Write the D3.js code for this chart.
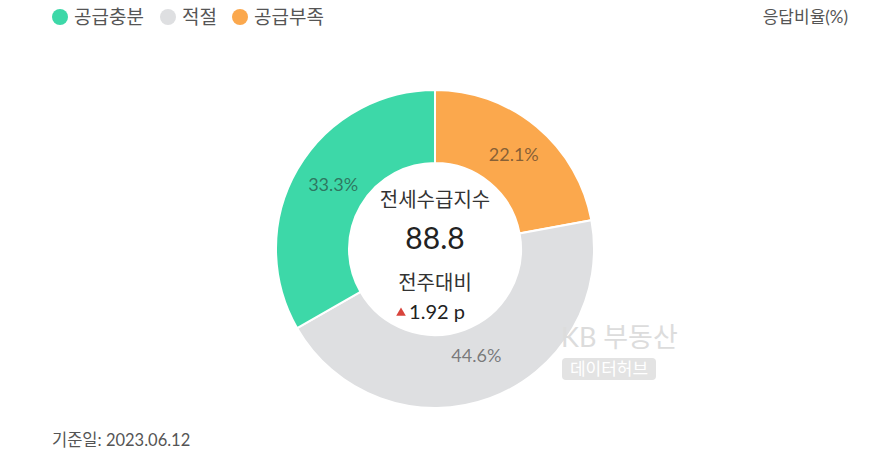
<!DOCTYPE html>
<html><head><meta charset="utf-8">
<script src="https://cdn.jsdelivr.net/npm/d3@7/dist/d3.min.js"></script>
<style>
body{margin:0;background:#fff;}
text{font-family:Lato,"Noto Sans CJK KR",sans-serif;}
</style></head>
<body><svg id="c" width="889" height="466"></svg>
<script>
const categories = ["공급충분", "적절", "공급부족"];
const values = [33.3, 44.6, 22.1];
const colors = ["#3dd8a8", "#dedfe1", "#fba84d"];
const indexTitle = "전세수급지수";
const indexValue = "88.8";
const changeTitle = "전주대비";
const changeValue = "1.92 p";
const dateLabel = "기준일: 2023.06.12";
const unitLabel = "응답비율(%)";

const svg = d3.select("#c");
const cx = 435, cy = 249, rOuter = 159, rInner = 86;

// legend
const legendX = [60, 168, 240];
categories.forEach((c, i) => {
  svg.append("circle").attr("cx", legendX[i]).attr("cy", 17).attr("r", 8).attr("fill", colors[i]);
  svg.append("text").attr("x", legendX[i] + 14).attr("y", 17).attr("dy", "0.35em")
    .attr("font-size", 19).attr("fill", "#555").text(c);
});
svg.append("text").attr("x", 848).attr("y", 17).attr("dy", "0.35em").attr("text-anchor", "end")
  .attr("font-size", 17).attr("fill", "#555").text(unitLabel);

// pie: draw in reverse order clockwise from top
const data = categories.map((c, i) => ({c, v: values[i], col: colors[i]})).reverse();
const pie = d3.pie().value(d => d.v).sort(null);
const arc = d3.arc().innerRadius(rInner).outerRadius(rOuter);
const g = svg.append("g").attr("transform", `translate(${cx},${cy})`);
const arcs = pie(data);
g.selectAll("path").data(arcs).join("path")
  .attr("d", arc).attr("fill", d => d.data.col)
  .attr("stroke", "#fff").attr("stroke-width", 2);

const labelArc = d3.arc().innerRadius(120).outerRadius(120);
const labelAdj = {"공급부족": [2, -2], "적절": [0, -6], "공급충분": [2, -4]};
g.selectAll("text.lbl").data(arcs).join("text").attr("class", "lbl")
  .attr("transform", d => {
    const p = labelArc.centroid(d); const a = labelAdj[d.data.c];
    return `translate(${p[0] + a[0]},${p[1] + a[1]})`;
  })
  .attr("text-anchor", "middle").attr("dy", "0.35em").attr("font-size", 18)
  .attr("fill", "#222").attr("fill-opacity", 0.55).text(d => d.data.v.toFixed(1) + "%");

// center texts
svg.append("text").attr("x", cx).attr("y", 200).attr("dy", "0.35em").attr("text-anchor", "middle")
  .attr("font-size", 20).attr("fill", "#333").text(indexTitle);
svg.append("text").attr("x", cx).attr("y", 238).attr("dy", "0.35em").attr("text-anchor", "middle")
  .attr("font-size", 30).attr("fill", "#222").text(indexValue);
svg.append("text").attr("x", cx).attr("y", 283).attr("dy", "0.35em").attr("text-anchor", "middle")
  .attr("font-size", 20).attr("fill", "#333").text(changeTitle);
svg.append("text").attr("x", cx + 2).attr("y", 312).attr("dy", "0.35em").attr("text-anchor", "middle")
  .attr("font-size", 20).attr("fill", "#222").text(changeValue);
svg.append("path").attr("d", d3.symbol(d3.symbolTriangle, 40)())
  .attr("transform", `translate(${cx - 34},${313})`).attr("fill", "#d8443c");

// watermark
svg.append("text").attr("x", 561).attr("y", 338).attr("dy", "0.35em").attr("font-size", 27)
  .attr("fill", "#dcdcdc").text("KB 부동산");
svg.append("rect").attr("x", 562).attr("y", 358).attr("width", 94).attr("height", 22).attr("rx", 4)
  .attr("fill", "#e3e3e3");
svg.append("text").attr("x", 609).attr("y", 369).attr("dy", "0.35em").attr("text-anchor", "middle")
  .attr("font-size", 17).attr("fill", "#fff").text("데이터허브");

svg.append("text").attr("x", 52).attr("y", 440).attr("dy", "0.35em")
  .attr("font-size", 16.5).attr("fill", "#555").text(dateLabel);
</script></body></html>
